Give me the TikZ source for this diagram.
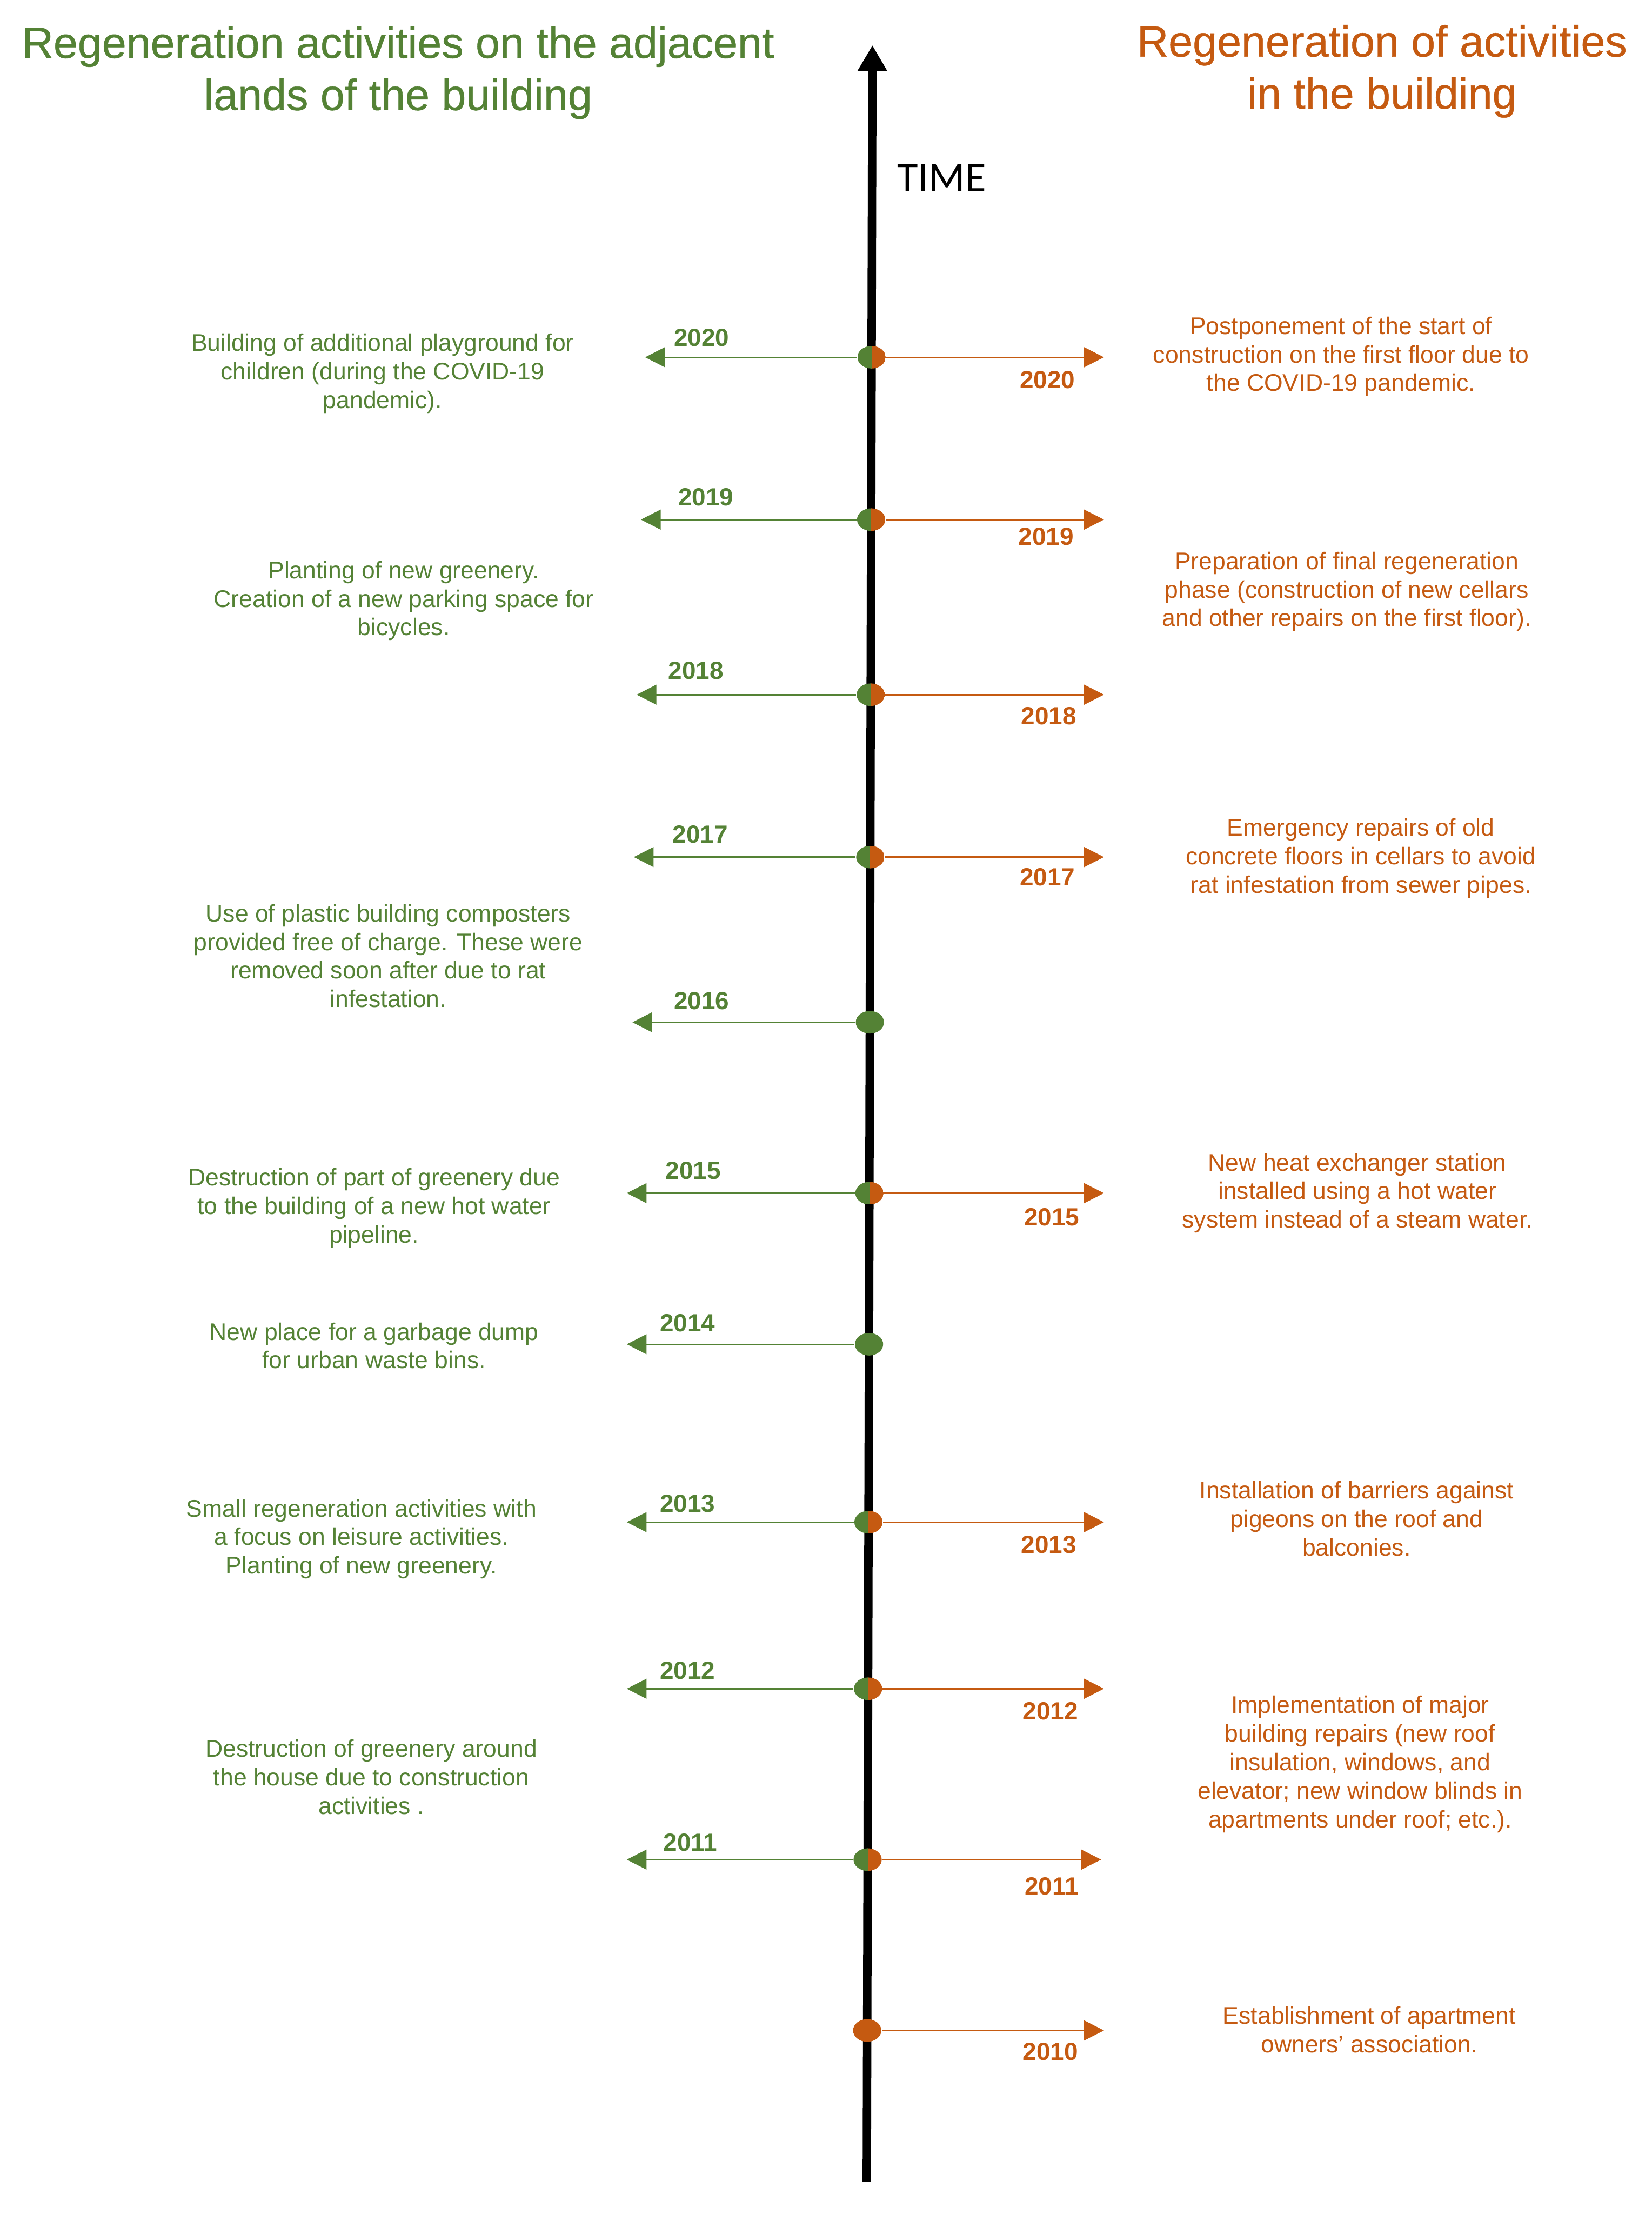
\documentclass[tikz,border=0pt]{standalone}
\usepackage{fontspec}
\setmainfont{Liberation Sans}
\newfontfamily\timefont{Carlito}
\newfontfamily\headfont[FakeBold=0.6]{Liberation Sans}
\usepackage{xcolor}
\usepackage{tikz}
\usetikzlibrary{positioning, arrows.meta, shapes, shapes.geometric, calc}

\definecolor{landgreen}{HTML}{548235}
\definecolor{buildorange}{HTML}{C55A11}

\begin{document}
\begin{tikzpicture}[
    x=0.02cm, y=-0.02cm,
    event/.style={
        font=\fontsize{9.7}{11.5}\selectfont,
        align=center, inner sep=0pt
    },
    landtext/.style={event, text=landgreen},
    housetext/.style={event, text=buildorange},
    heading/.style={font=\headfont\fontsize{17.6}{21}\selectfont, align=center},
    yearlabel/.style={font=\fontsize{10}{12}\selectfont\bfseries, inner sep=0pt},
    landyear/.style={yearlabel, text=landgreen},
    houseyear/.style={yearlabel, text=buildorange},
    yeardot/.style={ellipse, minimum width=0.4cm, minimum height=0.32cm, inner sep=0pt},
    landdot/.style={yeardot, fill=landgreen},
    housedot/.style={yeardot, fill=buildorange},
    bothdot/.style={yeardot, path picture={
        \fill[landgreen] (path picture bounding box.south west) rectangle (path picture bounding box.north);
        \fill[buildorange] (path picture bounding box.south) rectangle (path picture bounding box.north east);
    }},
    landarrow/.style={-{Triangle[length=0.28cm, width=0.28cm]}, draw=landgreen, line width=0.6pt},
    housearrow/.style={-{Triangle[length=0.28cm, width=0.28cm]}, draw=buildorange, line width=0.6pt},
    timeaxis/.style={-{Triangle[length=0.37cm, width=0.4cm]}, line width=3.4pt}
]
\useasboundingbox (0,0) rectangle (1170,1568);

% headings
\node[heading, text=landgreen] (headL) at (282,51.5)
    {Regeneration activities on the adjacent\\lands of the building};
\node[heading, text=buildorange] (headR) at (979,50.5)
    {Regeneration of activities\\in the building};

% time axis
\coordinate (axbot) at (614,1545);
\coordinate (axtop) at (618,32);
\draw[timeaxis] (axbot) -- (axtop);
\node[font=\timefont\fontsize{17.2}{20}\selectfont, inner sep=0pt] (time) at (667,126) {TIME};

% 2020
\node[bothdot] (d20) at (617.4,253) {};
\coordinate (l20) at (457,253);
\coordinate (r20) at (782,253);
\draw[landarrow] (d20) -- (l20);
\draw[housearrow] (d20) -- (r20);
\node[landyear] (ly20) at (497,239) {2020};
\node[houseyear] (hy20) at (742,269) {2020};
\node[landtext] (land20) at (271,264.5) {Building of additional playground for\\children (during the COVID-19\\pandemic).};
\node[housetext] (house20) at (950,252.5) {Postponement of the start of\\construction on the first floor due to\\the COVID-19 pandemic.};

% 2019
\node[bothdot] (d19) at (617.1,368) {};
\coordinate (l19) at (454,368);
\coordinate (r19) at (782,368);
\draw[landarrow] (d19) -- (l19);
\draw[housearrow] (d19) -- (r19);
\node[landyear] (ly19) at (500,352) {2019};
\node[houseyear] (hy19) at (741,380) {2019};
\node[landtext] (land19) at (286,425.5) {Planting of new greenery.\\Creation of a new parking space for\\bicycles.};
\node[housetext] (house19) at (954,419) {Preparation of final regeneration\\phase (construction of new cellars\\and other repairs on the first floor).};

% 2018
\node[bothdot] (d18) at (616.8,492) {};
\coordinate (l18) at (451,492);
\coordinate (r18) at (782,492);
\draw[landarrow] (d18) -- (l18);
\draw[housearrow] (d18) -- (r18);
\node[landyear] (ly18) at (493,475) {2018};
\node[houseyear] (hy18) at (743,507) {2018};

% 2017
\node[bothdot] (d17) at (616.5,607) {};
\coordinate (l17) at (449,607);
\coordinate (r17) at (782,607);
\draw[landarrow] (d17) -- (l17);
\draw[housearrow] (d17) -- (r17);
\node[landyear] (ly17) at (496,591) {2017};
\node[houseyear] (hy17) at (742,621) {2017};
\node[housetext] (house17) at (964,608) {Emergency repairs of old\\concrete floors in cellars to avoid\\rat infestation from sewer pipes.};
\node[landtext] (land17) at (275,677) {Use of plastic building composters\\provided free of charge. These were\\removed soon after due to rat\\infestation.};

% 2016
\node[landdot] (d16) at (616.2,724) {};
\coordinate (l16) at (448,724);
\draw[landarrow] (d16) -- (l16);
\node[landyear] (ly16) at (497,709) {2016};

% 2015
\node[bothdot] (d15) at (615.9,845) {};
\coordinate (l15) at (444,845);
\coordinate (r15) at (782,845);
\draw[landarrow] (d15) -- (l15);
\draw[housearrow] (d15) -- (r15);
\node[landyear] (ly15) at (491,829) {2015};
\node[houseyear] (hy15) at (745,862) {2015};
\node[landtext] (land15) at (265,855.5) {Destruction of part of greenery due\\to the building of a new hot water\\pipeline.};
\node[housetext] (house15) at (961.5,845) {New heat exchanger station\\installed using a hot water\\system instead of a steam water.};

% 2014
\node[landdot] (d14) at (615.6,952) {};
\coordinate (l14) at (444,952);
\draw[landarrow] (d14) -- (l14);
\node[landyear] (ly14) at (487,937) {2014};
\node[landtext] (land14) at (265,953) {New place for a garbage dump\\for urban waste bins.};

% 2013
\node[bothdot] (d13) at (615.2,1078) {};
\coordinate (l13) at (444,1078);
\coordinate (r13) at (782,1078);
\draw[landarrow] (d13) -- (l13);
\draw[housearrow] (d13) -- (r13);
\node[landyear] (ly13) at (487,1065) {2013};
\node[houseyear] (hy13) at (743,1094) {2013};
\node[landtext] (land13) at (256,1090) {Small regeneration activities with\\a focus on leisure activities.\\Planting of new greenery.};
\node[housetext] (house13) at (961,1075.5) {Installation of barriers against\\pigeons on the roof and\\balconies.};

% 2012
\node[bothdot] (d12) at (614.9,1196) {};
\coordinate (l12) at (444,1196);
\coordinate (r12) at (782,1196);
\draw[landarrow] (d12) -- (l12);
\draw[housearrow] (d12) -- (r12);
\node[landyear] (ly12) at (487,1183) {2012};
\node[houseyear] (hy12) at (744,1212) {2012};
\node[landtext] (land12) at (263,1258.5) {Destruction of greenery around\\the house due to construction\\activities .};
\node[housetext] (house12) at (963.5,1249.5) {Implementation of major\\building repairs (new roof\\insulation, windows, and\\elevator; new window blinds in\\apartments under roof; etc.).};

% 2011
\node[bothdot] (d11) at (614.6,1317) {};
\coordinate (l11) at (444,1317);
\coordinate (r11) at (780,1317);
\draw[landarrow] (d11) -- (l11);
\draw[housearrow] (d11) -- (r11);
\node[landyear] (ly11) at (489,1305) {2011};
\node[houseyear] (hy11) at (745,1336) {2011};

% 2010
\node[housedot] (d10) at (614.3,1438) {};
\coordinate (r10) at (782,1438);
\draw[housearrow] (d10) -- (r10);
\node[houseyear] (hy10) at (744,1453) {2010};
\node[housetext] (house10) at (970,1437.5) {Establishment of apartment\\owners' association.};

\end{tikzpicture}
\end{document}
